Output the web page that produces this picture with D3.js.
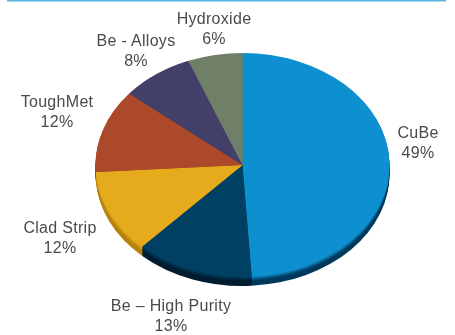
<!DOCTYPE html>
<html><head><meta charset="utf-8">
<script src="https://cdnjs.cloudflare.com/ajax/libs/d3/7.8.5/d3.min.js"></script>
<style>html,body{margin:0;padding:0;background:#fff}svg{display:block}text{font-family:"Liberation Sans",Arial,sans-serif;font-size:16px;letter-spacing:0.3px;fill:#4a4a4a;text-anchor:middle}</style>
</head><body><svg id="c" width="455" height="335"></svg>
<script>
const categories=["CuBe","Be – High Purity","Clad Strip","ToughMet","Be - Alloys","Hydroxide"];
const shares=[49,13,12,12,8,6];
const topColors=["#0a8fd0","#053f63","#e6ab1e","#ab4a2a","#423f68","#707f68"];
const sideColors=["#06395c","#021c30","#b58208","#8a3a20","#33304f","#58644f"];
const labelAnchors=[[418,138],[171,311],[60,233],[57,107],[136,46],[214,24]];

const svg=d3.select("#c");
const cx=242.5,cy=165,rx=147,ry=112,depth=9;
svg.append("rect").attr("x",7).attr("y",-1).attr("width",439).attr("height",2.5).attr("fill","#5bb4e0");
const defs=svg.append("defs");
const f=defs.append("filter").attr("id","soft").attr("x","-5%").attr("y","-5%").attr("width","110%").attr("height","110%");
f.append("feGaussianBlur").attr("stdDeviation",0.5);
const g2=defs.append("filter").attr("id","soft2");
g2.append("feGaussianBlur").attr("stdDeviation",0.35);

const pie=d3.pie().sort(null).value(d=>d)(shares);
const arc=d3.arc().innerRadius(0).outerRadius(rx);
const root=svg.append("g").attr("filter","url(#soft)");
d3.range(depth,0,-1).forEach(k=>{
  const t=k/depth;
  root.append("g").attr("transform",`translate(${cx},${cy+k}) scale(1,${ry/rx})`)
    .selectAll("path").data(pie).join("path").attr("d",arc)
    .attr("fill",(d,i)=>d3.interpolateRgb(topColors[i],sideColors[i])(Math.min(1,t*2)));
});
root.append("g").attr("transform",`translate(${cx},${cy}) scale(1,${ry/rx})`)
  .selectAll("path").data(pie).join("path").attr("d",arc).attr("fill",(d,i)=>topColors[i]);

const lab=svg.append("g").attr("filter","url(#soft2)");
categories.forEach((c,i)=>{
  const [x,y]=labelAnchors[i];
  const t=lab.append("text").attr("x",x).attr("y",y);
  t.append("tspan").attr("x",x).text(c);
  t.append("tspan").attr("x",x).attr("dy",20).text(shares[i]+"%");
});
</script></body></html>
